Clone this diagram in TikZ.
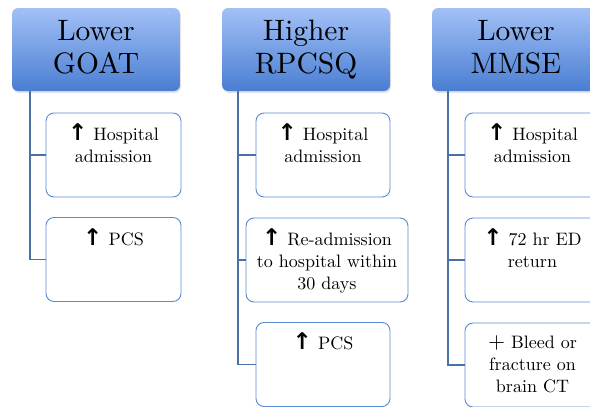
\documentclass[tikz,border=0pt]{standalone}
\usepackage{fontspec}
\setmainfont{lmroman10-regular}[Extension=.otf, BoldFont=lmroman10-bold]
\newfontfamily\arrfont{DejaVu Sans Bold}
\usetikzlibrary{shadows}
\definecolor{hdtop}{HTML}{A2C0F6}
\definecolor{hdbot}{HTML}{4A7ED2}
\definecolor{boxline}{HTML}{5A8AD2}
\definecolor{conn}{HTML}{4A70A8}
\newcommand{\upar}{{\arrfont\fontsize{23}{22}\selectfont ↑}}
\tikzset{
 hdr/.style={rectangle, rounded corners=6pt, top color=hdtop, bottom color=hdbot, draw=none,
   minimum width=168pt, minimum height=83pt, align=center, inner sep=0pt, text depth=6pt,
   font=\fontsize{29.5}{33}\selectfont,
   drop shadow={opacity=0.22, shadow xshift=1pt, shadow yshift=-2pt}},
 cbox/.style={rectangle, rounded corners=8pt, draw=boxline, line width=0.9pt, fill=white,
   minimum width=135pt, minimum height=84pt, inner sep=0pt},
 ctext/.style={anchor=north, align=center, inner sep=0pt, font=\fontsize{18}{22}\selectfont},
 link/.style={draw=conn, line width=1.2pt}
}
\begin{document}
\begin{tikzpicture}[x=1pt,y=-1pt]
\useasboundingbox (0,0) rectangle (590,407);
\clip (0,0) rectangle (590,407);
% headers
\node[hdr] (h1) at (96,49.5) {Lower\\GOAT};
\node[hdr] (h2) at (306,49.5) {Higher\\RPCSQ};
\node[hdr] (h3) at (516,49.5) {Lower\\MMSE};
% trunk coordinates
\coordinate (k1) at (30,91);
\coordinate (k2) at (238,91);
\coordinate (k3) at (448,91);
% column 1
\node[cbox] (a1) at (113.5,155) {};
\node[cbox] (a2) at (113.5,259.5) {};
% column 2
\node[cbox, minimum width=134pt] (b1) at (323,155) {};
\node[cbox, minimum width=162pt] (b2) at (327,260) {};
\node[cbox, minimum width=134pt] (b3) at (323,364.5) {};
% column 3
\node[cbox] (c1) at (532.5,155) {};
\node[cbox] (c2) at (532.5,260) {};
\node[cbox] (c3) at (532.5,365) {};
% connectors
\draw[link] (k1) |- (a2.west);
\draw[link] (k1 |- a1.west) -- (a1.west);
\draw[link] (k2) |- (b3.west);
\draw[link] (k2 |- b1.west) -- (b1.west);
\draw[link] (k2 |- b2.west) -- (b2.west);
\draw[link] (k3) |- (c3.west);
\draw[link] (k3 |- c1.west) -- (c1.west);
\draw[link] (k3 |- c2.west) -- (c2.west);
% texts
\node[ctext] (ta1) at ([yshift=-11pt]a1.north) {\upar{} Hospital\\admission};
\node[ctext] (ta2) at ([yshift=-11pt]a2.north) {\upar{} PCS};
\node[ctext] (tb1) at ([yshift=-11pt]b1.north) {\upar{} Hospital\\admission};
\node[ctext] (tb2) at ([yshift=-11pt]b2.north) {\upar{} Re-admission\\to hospital within\\30 days};
\node[ctext] (tb3) at ([yshift=-10pt]b3.north) {\upar{} PCS};
\node[ctext] (tc1) at ([yshift=-11pt]c1.north) {\upar{} Hospital\\admission};
\node[ctext] (tc2) at ([yshift=-11pt]c2.north) {\upar{} 72 hr ED\\return};
\node[ctext] (tc3) at ([yshift=-13pt]c3.north) {{\fontsize{22}{22}\selectfont +} Bleed or\\fracture on\\brain CT};
\end{tikzpicture}
\end{document}
